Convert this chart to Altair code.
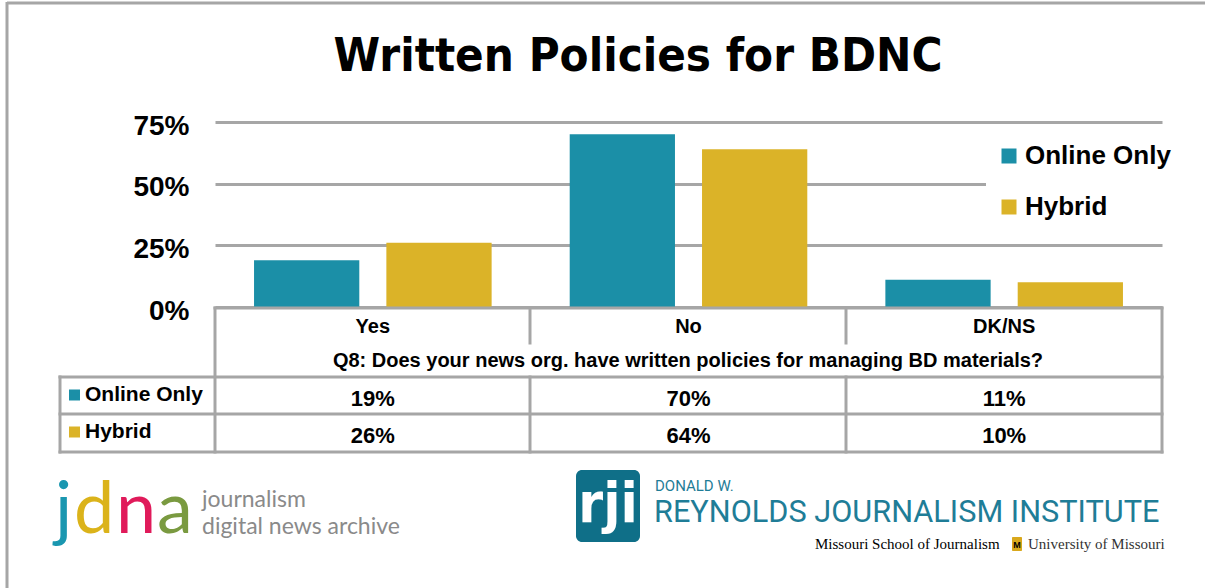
import altair as alt
import pandas as pd

# ---------------- data ----------------
categories = ["Yes", "No", "DK/NS"]
series = ["Online Only", "Hybrid"]
online_only = [19, 70, 11]
hybrid = [26, 64, 10]
y_ticks = [0, 25, 50, 75]
title_text = "Written Policies for BDNC"
question = "Q8: Does your news org. have written policies for managing BD materials?"

# ---------------- styles ----------------
colors = ["#1b8fa7", "#dbb328"]
GRID = "#a6a6a6"
F = "Liberation Sans"
FN = "DejaVu Sans Condensed, Liberation Sans, sans-serif"

rows = []
for s, vals in zip(series, [online_only, hybrid]):
    for c, v in zip(categories, vals):
        rows.append({"Category": c, "Series": s, "Value": v})
df = pd.DataFrame(rows)

W, H = 947, 185
PL, PT = 215, 122


def px(x):
    return x - PL


def py(y):
    return y - PT


blank = pd.DataFrame({"k": [0]})

x_enc = alt.X(
    "Category:N",
    sort=categories,
    scale=alt.Scale(domain=categories, paddingInner=0, paddingOuter=0),
    axis=None,
)

bars = alt.Chart(df).mark_bar().encode(
    x=x_enc,
    xOffset=alt.XOffset(
        "Series:N",
        sort=series,
        scale=alt.Scale(domain=series, paddingInner=0.2045, paddingOuter=0.295),
    ),
    y=alt.Y(
        "Value:Q",
        scale=alt.Scale(domain=[0, 75], nice=False, zero=True),
        axis=alt.Axis(
            values=y_ticks,
            labelExpr="datum.value + '%'",
            title=None,
            grid=True,
            gridColor=GRID,
            gridWidth=3,
            domain=False,
            ticks=False,
            labelFont=F,
            labelFontSize=28,
            labelFontWeight="bold",
            labelColor="black",
            labelPadding=26,
            labelOffset=4,
        ),
    ),
    color=alt.Color(
        "Series:N",
        sort=series,
        scale=alt.Scale(domain=series, range=colors),
        legend=alt.Legend(
            title=None,
            orient="none",
            legendX=px(986),
            legendY=py(133),
            fillColor="white",
            padding=10,
            symbolType="square",
            symbolSize=225,
            symbolStrokeWidth=0,
            labelFont=F,
            labelFontSize=26,
            labelFontWeight="bold",
            labelColor="black",
            labelOffset=3,
            rowPadding=25,
        ),
    ),
)


def hline(y, x1, x2):
    return alt.Chart(blank).mark_rule(color=GRID, strokeWidth=3, strokeCap="square").encode(
        x=alt.value(px(x1)), x2=alt.value(px(x2)), y=alt.value(py(y))
    )


def vline(x, y1, y2):
    return alt.Chart(blank).mark_rule(color=GRID, strokeWidth=3, strokeCap="square").encode(
        x=alt.value(px(x)), y=alt.value(py(y1)), y2=alt.value(py(y2))
    )


def label(text, x, y, size, color="black", weight="normal", font=F, align="left",
          baseline="alphabetic", line_height=None):
    kw = dict(font=font, fontSize=size, fontWeight=weight, color=color, align=align, baseline=baseline)
    if line_height is not None:
        kw["lineHeight"] = line_height
    return alt.Chart(blank).mark_text(**kw).encode(
        x=alt.value(px(x)), y=alt.value(py(y)), text=alt.value(text)
    )


lines = [
    hline(308, 215, 1162),
    hline(377, 60, 1162),
    hline(414, 60, 1162),
    hline(452, 60, 1162),
    vline(215, 308, 452),
    vline(1162, 308, 452),
    vline(60, 377, 452),
    vline(530, 308, 343),
    vline(846, 308, 343),
    vline(530, 377, 452),
    vline(846, 377, 452),
]

header = alt.Chart(pd.DataFrame({"Category": categories})).mark_text(
    font=F, fontSize=20, fontWeight="bold", color="black", baseline="middle"
).encode(x=x_enc, y=alt.value(py(327)), text="Category:N")

q_text = label(question, 688, 361, 20, weight="bold", align="center", baseline="middle")

value_layers = []
row_label_layers = []
for s, c, yc, yl in zip(series, colors, [399, 436], [395, 432]):
    value_layers.append(
        alt.Chart(df)
        .transform_filter(alt.datum.Series == s)
        .transform_calculate(label="datum.Value + '%'")
        .mark_text(font=F, fontSize=22, fontWeight="bold", color="black", baseline="middle")
        .encode(x=x_enc, y=alt.value(py(yc)), text="label:N")
    )
    sdf = pd.DataFrame({"Series": [s]})
    row_label_layers.append(
        alt.Chart(sdf).mark_square(size=121, color=c, opacity=1).encode(
            x=alt.value(px(74.5)), y=alt.value(py(yl))
        )
    )
    row_label_layers.append(
        alt.Chart(sdf).mark_text(
            font=F, fontSize=21, fontWeight="bold", color="black", align="left", baseline="middle"
        ).encode(x=alt.value(px(85)), y=alt.value(py(yl)), text="Series:N")
    )

title = label(title_text, 638, 71, 47, weight="bold", font=FN, align="center")

# frame
frame = [
    alt.Chart(blank).mark_rule(color=GRID, strokeWidth=3).encode(
        x=alt.value(px(7)), y=alt.value(py(2)), y2=alt.value(py(600))
    ),
    alt.Chart(blank).mark_rule(color=GRID, strokeWidth=3).encode(
        x=alt.value(px(7)), x2=alt.value(px(1210)), y=alt.value(py(3))
    ),
]

# jdna logo
jdna = [
    label("j", 55, 533, 72, color="#1a97b0", font="Lato"),
    label("d", 74, 533, 72, color="#dbb31a", font="Lato"),
    label("n", 116, 533, 72, color="#e01a5a", font="Lato"),
    label("a", 157, 533, 72, color="#7a9a40", font="Lato"),
    label("journalism", 202, 507, 23, color="#8a8a8a", font="Lato"),
    label("digital news archive", 202, 534, 23, color="#8a8a8a", font="Lato"),
]

# rji logo
rji = [
    alt.Chart(blank).mark_rect(color="#0f6f88", cornerRadius=6).encode(
        x=alt.value(px(576)), x2=alt.value(px(640)), y=alt.value(py(470)), y2=alt.value(py(542))
    ),
    label("rji", 608, 522, 56, color="white", weight="bold", font=FN, align="center"),
    label("DONALD W.", 655, 491, 15, color="#1f7d97", font="Roboto"),
    label("REYNOLDS JOURNALISM INSTITUTE", 654, 522, 30.7, color="#1f7d97", font="Roboto"),
    label("Missouri School of Journalism", 815, 549, 15, color="black", font="Liberation Serif"),
    alt.Chart(blank).mark_rect(color="#d9a81c", cornerRadius=1).encode(
        x=alt.value(px(1012)), x2=alt.value(px(1022)), y=alt.value(py(537)), y2=alt.value(py(551))
    ),
    label("M", 1017, 548, 9, color="black", weight="bold", align="center"),
    label("University of Missouri", 1028, 549, 15, color="#333333", font="Liberation Serif"),
]

chart = alt.layer(
    bars,
    *lines,
    header,
    q_text,
    *value_layers,
    *row_label_layers,
    title,
    *frame,
    *jdna,
    *rji,
).properties(
    width=W,
    height=H,
    padding={"left": PL, "top": PT, "right": 1205 - PL - W, "bottom": 588 - PT - H},
    autosize=alt.AutoSizeParams(type="none"),
    background="white",
).configure_view(stroke=None)

chart.save("out.html", embed_options={"renderer": "svg", "actions": False})
